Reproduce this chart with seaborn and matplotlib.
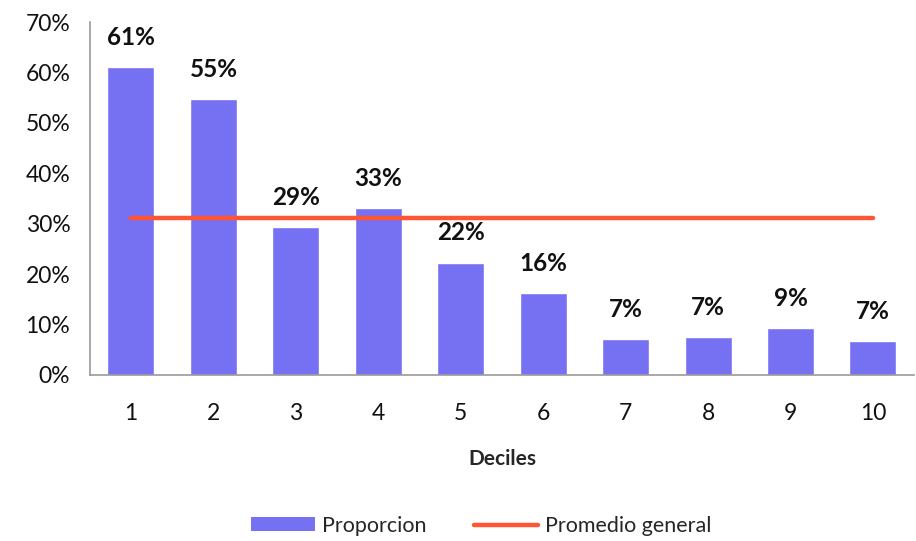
import numpy as np
import pandas as pd
import matplotlib
matplotlib.use("Agg")
import matplotlib.pyplot as plt
import seaborn as sns
from matplotlib.patches import Patch
from matplotlib.lines import Line2D

deciles = ['1', '2', '3', '4', '5', '6', '7', '8', '9', '10']
proporcion = [0.611, 0.547, 0.294, 0.331, 0.223, 0.162, 0.071, 0.075, 0.093, 0.068]
etiquetas = ['61%', '55%', '29%', '33%', '22%', '16%', '7%', '7%', '9%', '7%']
promedio_general = 0.311

sns.set_style('white')
plt.rcParams['font.family'] = ['Lato', 'DejaVu Sans']

df = pd.DataFrame({'decil': deciles, 'proporcion': proporcion})

fig = plt.figure(figsize=(9.16, 5.41), dpi=100)
ax = fig.add_axes([0.098, 0.307, 0.9, 0.652])

bar_color = '#7670F3'
line_color = '#FF5533'

sns.barplot(data=df, x='decil', y='proporcion', color=bar_color, width=0.57,
            saturation=1, ax=ax)

x_pos = np.arange(len(deciles))
sns.lineplot(x=x_pos, y=[promedio_general] * len(deciles), color=line_color,
             linewidth=3.2, ax=ax, solid_capstyle='round')

for i, (v, lab) in enumerate(zip(proporcion, etiquetas)):
    ax.text(i, v + 0.036, lab, ha='center', va='bottom', fontsize=17.5,
            fontweight='bold', color='#111111')

ax.set_ylim(0, 0.70)
ax.set_xlim(-0.5, 9.5)
ax.set_yticks(np.arange(0, 0.71, 0.1))
ax.set_yticklabels([f'{int(round(t * 100))}%' for t in np.arange(0, 0.71, 0.1)])
ax.tick_params(axis='both', length=0, labelsize=16.5, colors='#111111')
ax.tick_params(axis='y', pad=14)
ax.tick_params(axis='x', pad=20)
ax.set_ylabel('')
ax.set_xlabel('Deciles', fontsize=15, fontweight='bold', labelpad=18)

sns.despine(ax=ax)
for s in ['left', 'bottom']:
    ax.spines[s].set_color('#999999')
    ax.spines[s].set_linewidth(1.2)

handles = [Patch(facecolor=bar_color, edgecolor='none', label='Proporcion'),
           Line2D([0], [0], color=line_color, lw=3.2, label='Promedio general')]
fig.legend(handles=handles, loc='center', bbox_to_anchor=(0.525, 0.028), ncol=2,
           frameon=False, fontsize=15.5, handlelength=3.0, handleheight=0.6,
           columnspacing=2.2, handletextpad=0.3)

fig.savefig('out.png', dpi=100)
